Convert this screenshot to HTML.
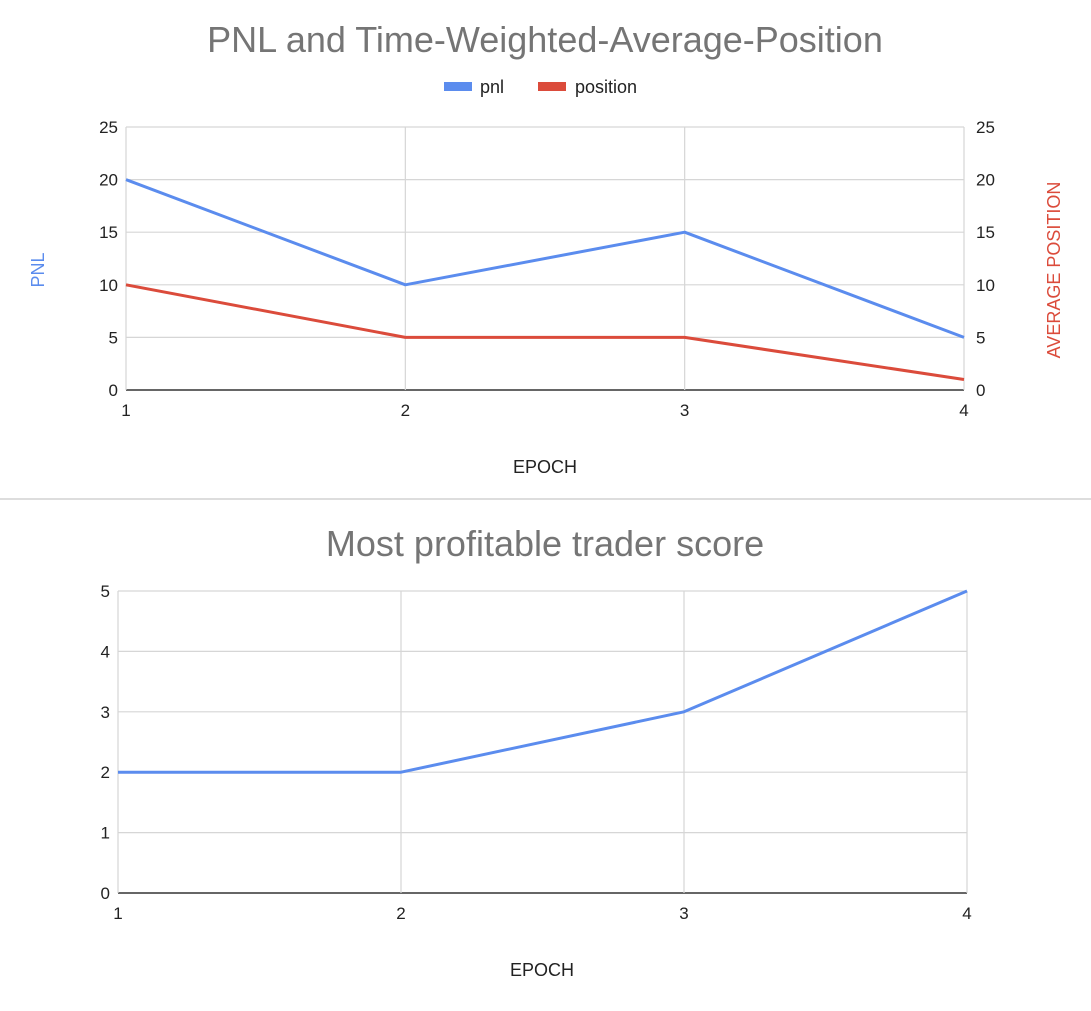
<!DOCTYPE html>
<html><head><meta charset="utf-8"><style>
body{margin:0;background:#fff;width:1091px;height:1006px;overflow:hidden;font-family:"Liberation Sans",Arial,sans-serif}
</style></head><body>
<svg id="svg" width="1091" height="1006" xmlns="http://www.w3.org/2000/svg">
<text x="545" y="52" text-anchor="middle" font-size="36" fill="#757575">PNL and Time-Weighted-Average-Position</text>
<rect x="444" y="82" width="28" height="9" fill="#5b8cee"/>
<text x="480" y="93" font-size="18" fill="#222">pnl</text>
<rect x="538" y="82" width="28" height="9" fill="#db4b3b"/>
<text x="575" y="93" font-size="18" fill="#222">position</text>
<text transform="translate(44,270) rotate(-90)" text-anchor="middle" font-size="18" fill="#5b8cee">PNL</text>
<text transform="translate(1060,270) rotate(-90)" text-anchor="middle" font-size="18" fill="#db4b3b">AVERAGE POSITION</text>
<text x="545" y="473" text-anchor="middle" font-size="18" fill="#222">EPOCH</text>
<line x1="0" y1="499" x2="1091" y2="499" stroke="#bbb" stroke-width="1"/>
<text x="545" y="556" text-anchor="middle" font-size="36" fill="#757575">Most profitable trader score</text>
<text x="542" y="976" text-anchor="middle" font-size="18" fill="#222">EPOCH</text>
<g id="top"></g><g id="bot"></g>
</svg>
<script>
const epochs=[1,2,3,4];
const pnl=[20,10,15,5];
const position=[10,5,5,1];
const topTicks=[0,5,10,15,20,25];
const score=[2,2,3,5];
const botTicks=[0,1,2,3,4,5];
const NS="http://www.w3.org/2000/svg";
function mk(p,t,a){const e=document.createElementNS(NS,t);for(const k in a)e.setAttribute(k,a[k]);p.appendChild(e);return e;}
function chart(g,L,R,T,B,ymax,ticks,series,right,prefix){
  const x=v=>L+(v-epochs[0])/(epochs[epochs.length-1]-epochs[0])*(R-L);
  const y=v=>B-v/ymax*(B-T);
  ticks.forEach(t=>{
    const l=mk(g,'line',{x1:L,x2:R,y1:y(t),y2:y(t),stroke:t===0?'#333':'#d6d6d6','stroke-width':t===0?1.5:1.2});
    
    
    const tx=mk(g,'text',{x:L-8,y:y(t)+6,'text-anchor':'end','font-size':17,fill:'#222'});tx.textContent=t;
    
    
    if(right){const r=mk(g,'text',{x:R+12,y:y(t)+6,'font-size':17,fill:'#222'});r.textContent=t;
      
      }
  });
  epochs.forEach(e=>{
    const l=mk(g,'line',{x1:x(e),x2:x(e),y1:T,y2:B,stroke:'#d6d6d6','stroke-width':1.2});
    
    
    const tx=mk(g,'text',{x:x(e),y:B+26,'text-anchor':'middle','font-size':17,fill:'#222'});tx.textContent=e;
    
    
  });
  series.forEach(s=>{
    const p=mk(g,'polyline',{points:s.v.map((v,i)=>x(epochs[i])+','+y(v)).join(' '),fill:'none',stroke:s.c,'stroke-width':3,'stroke-linejoin':'round'});
    
    
  });
}
chart(document.getElementById('top'),126,964,127,390,25,topTicks,[{v:position,c:'#db4b3b',n:'position-line'},{v:pnl,c:'#5b8cee',n:'pnl-line'}],true,'top');
chart(document.getElementById('bot'),118,967,591,893,5,botTicks,[{v:score,c:'#5b8cee',n:'score-line'}],false,'bottom');
</script>
</body></html>
